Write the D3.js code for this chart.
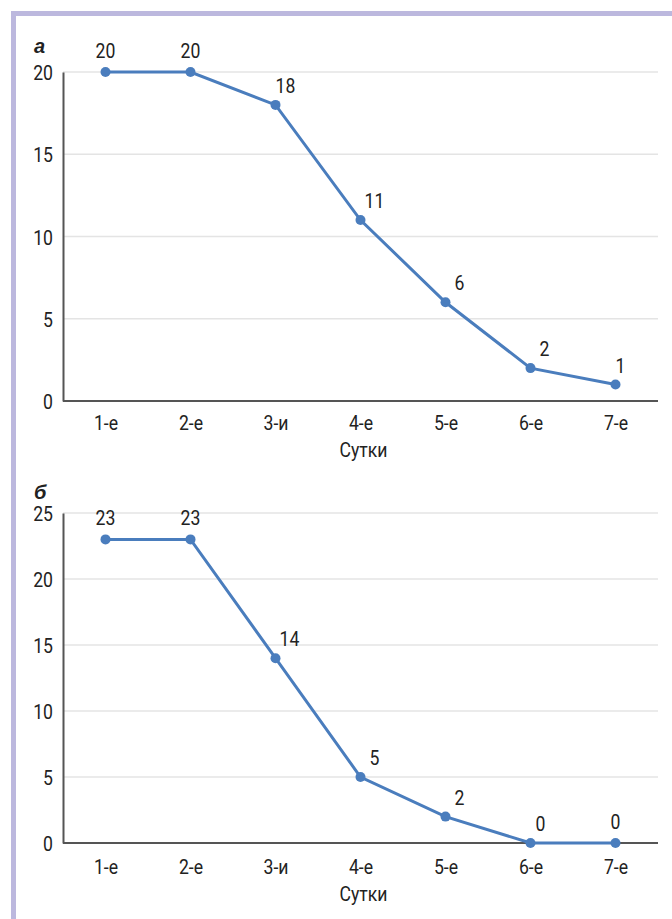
<!DOCTYPE html>
<html>
<head>
<meta charset="utf-8">
<script src="https://cdn.jsdelivr.net/npm/d3@7"></script>
<style>
  body { margin: 0; background: #fff; }
  svg text { font-family: "Roboto", "Liberation Sans", sans-serif; fill: #222; }
</style>
</head>
<body>
<script>
// days (x categories)
var days = ["1-е", "2-е", "3-и", "4-е", "5-е", "6-е", "7-е"];
// panel a values
var valuesA = [20, 20, 18, 11, 6, 2, 1];
var ticksA = [0, 5, 10, 15, 20];
// panel b values
var valuesB = [23, 23, 14, 5, 2, 0, 0];
var ticksB = [0, 5, 10, 15, 20, 25];

var W = 672, H = 919;
var sx = 0.84; // narrow the text like the condensed face of the original
var fs = "21px";

var svg = d3.select("body").append("svg")
    .attr("width", W)
    .attr("height", H);

// lavender frame, top and left
svg.append("rect").attr("x", 11).attr("y", 11).attr("width", W - 11).attr("height", 5).attr("fill", "#bcb8de");
svg.append("rect").attr("x", 11).attr("y", 11).attr("width", 5).attr("height", H - 11).attr("fill", "#bcb8de");

var left = 63, right = 658;
var x = d3.scalePoint().domain(days).range([left, right]).padding(0.5);

// put a narrowed text at (px, py)
function narrowText(g, px, py, anchor, txt) {
  return g.append("text")
      .attr("transform", "translate(" + px + "," + py + ") scale(" + sx + ",1)")
      .attr("text-anchor", anchor)
      .style("font-size", fs)
      .text(txt);
}

function panel(letter, values, ticks, top, bottom, letterY, tickGap, xlabGap) {
  var y = d3.scaleLinear().domain([0, d3.max(ticks)]).range([bottom, top]);
  var g = svg.append("g");

  // grid
  g.selectAll(".grid").data(ticks.filter(function(t) { return t > 0; }))
    .enter().append("line")
      .attr("x1", left).attr("x2", right)
      .attr("y1", function(d) { return y(d); })
      .attr("y2", function(d) { return y(d); })
      .attr("stroke", "#e4e4e4").attr("stroke-width", 1.5);

  // y axis
  var ya = g.append("g")
      .attr("transform", "translate(" + left + ",0)")
      .call(d3.axisLeft(y).tickValues(ticks).tickSize(0).tickPadding(10));
  ya.select(".domain").attr("stroke", "#555").attr("stroke-width", 2);
  ya.selectAll("text")
      .style("font-size", fs)
      .attr("dy", "0.36em")
      .attr("x", -10 / sx)
      .attr("transform", "scale(" + sx + ",1)");

  // x axis
  var xa = g.append("g")
      .attr("transform", "translate(0," + bottom + ")")
      .call(d3.axisBottom(x).tickSize(0).tickPadding(tickGap).tickSizeOuter(0));
  xa.select(".domain").attr("stroke", "#555").attr("stroke-width", 2)
      .attr("d", "M" + left + ",0H" + right);
  xa.selectAll("text")
      .style("font-size", fs)
      .attr("transform", "scale(" + sx + ",1)");

  narrowText(g, (left + right) / 2 + 3, bottom + xlabGap, "middle", "Сутки");

  // panel letter
  g.append("text")
      .attr("x", 34).attr("y", letterY)
      .style("font-family", "Liberation Sans, Arial, sans-serif")
      .style("font-weight", "bold").style("font-style", "italic")
      .style("font-size", "20px")
      .text(letter);

  var line = d3.line()
      .x(function(d, i) { return x(days[i]); })
      .y(function(d) { return y(d); });

  g.append("path").datum(values)
      .attr("d", line)
      .attr("fill", "none")
      .attr("stroke", "#4a7dbd")
      .attr("stroke-width", 3);

  g.selectAll(".dot").data(values).enter().append("circle")
      .attr("cx", function(d, i) { return x(days[i]); })
      .attr("cy", function(d) { return y(d); })
      .attr("r", 5)
      .attr("fill", "#4a7dbd");

  // value labels, nudged right where the line drops into the point
  values.forEach(function(d, i) {
    var drop = i > 0 ? values[i - 1] - d : 0;
    var px = x(days[i]) + Math.min(14, Math.max(0, drop) * 5);
    var py = y(d) - (drop > 0 ? 12 : 14);
    narrowText(g, px, py, "middle", d);
  });
}

panel("а", valuesA, ticksA, 72, 401, 53, 14, 56);
panel("б", valuesB, ticksB, 513, 843, 499, 16, 58);
</script>
</body>
</html>
